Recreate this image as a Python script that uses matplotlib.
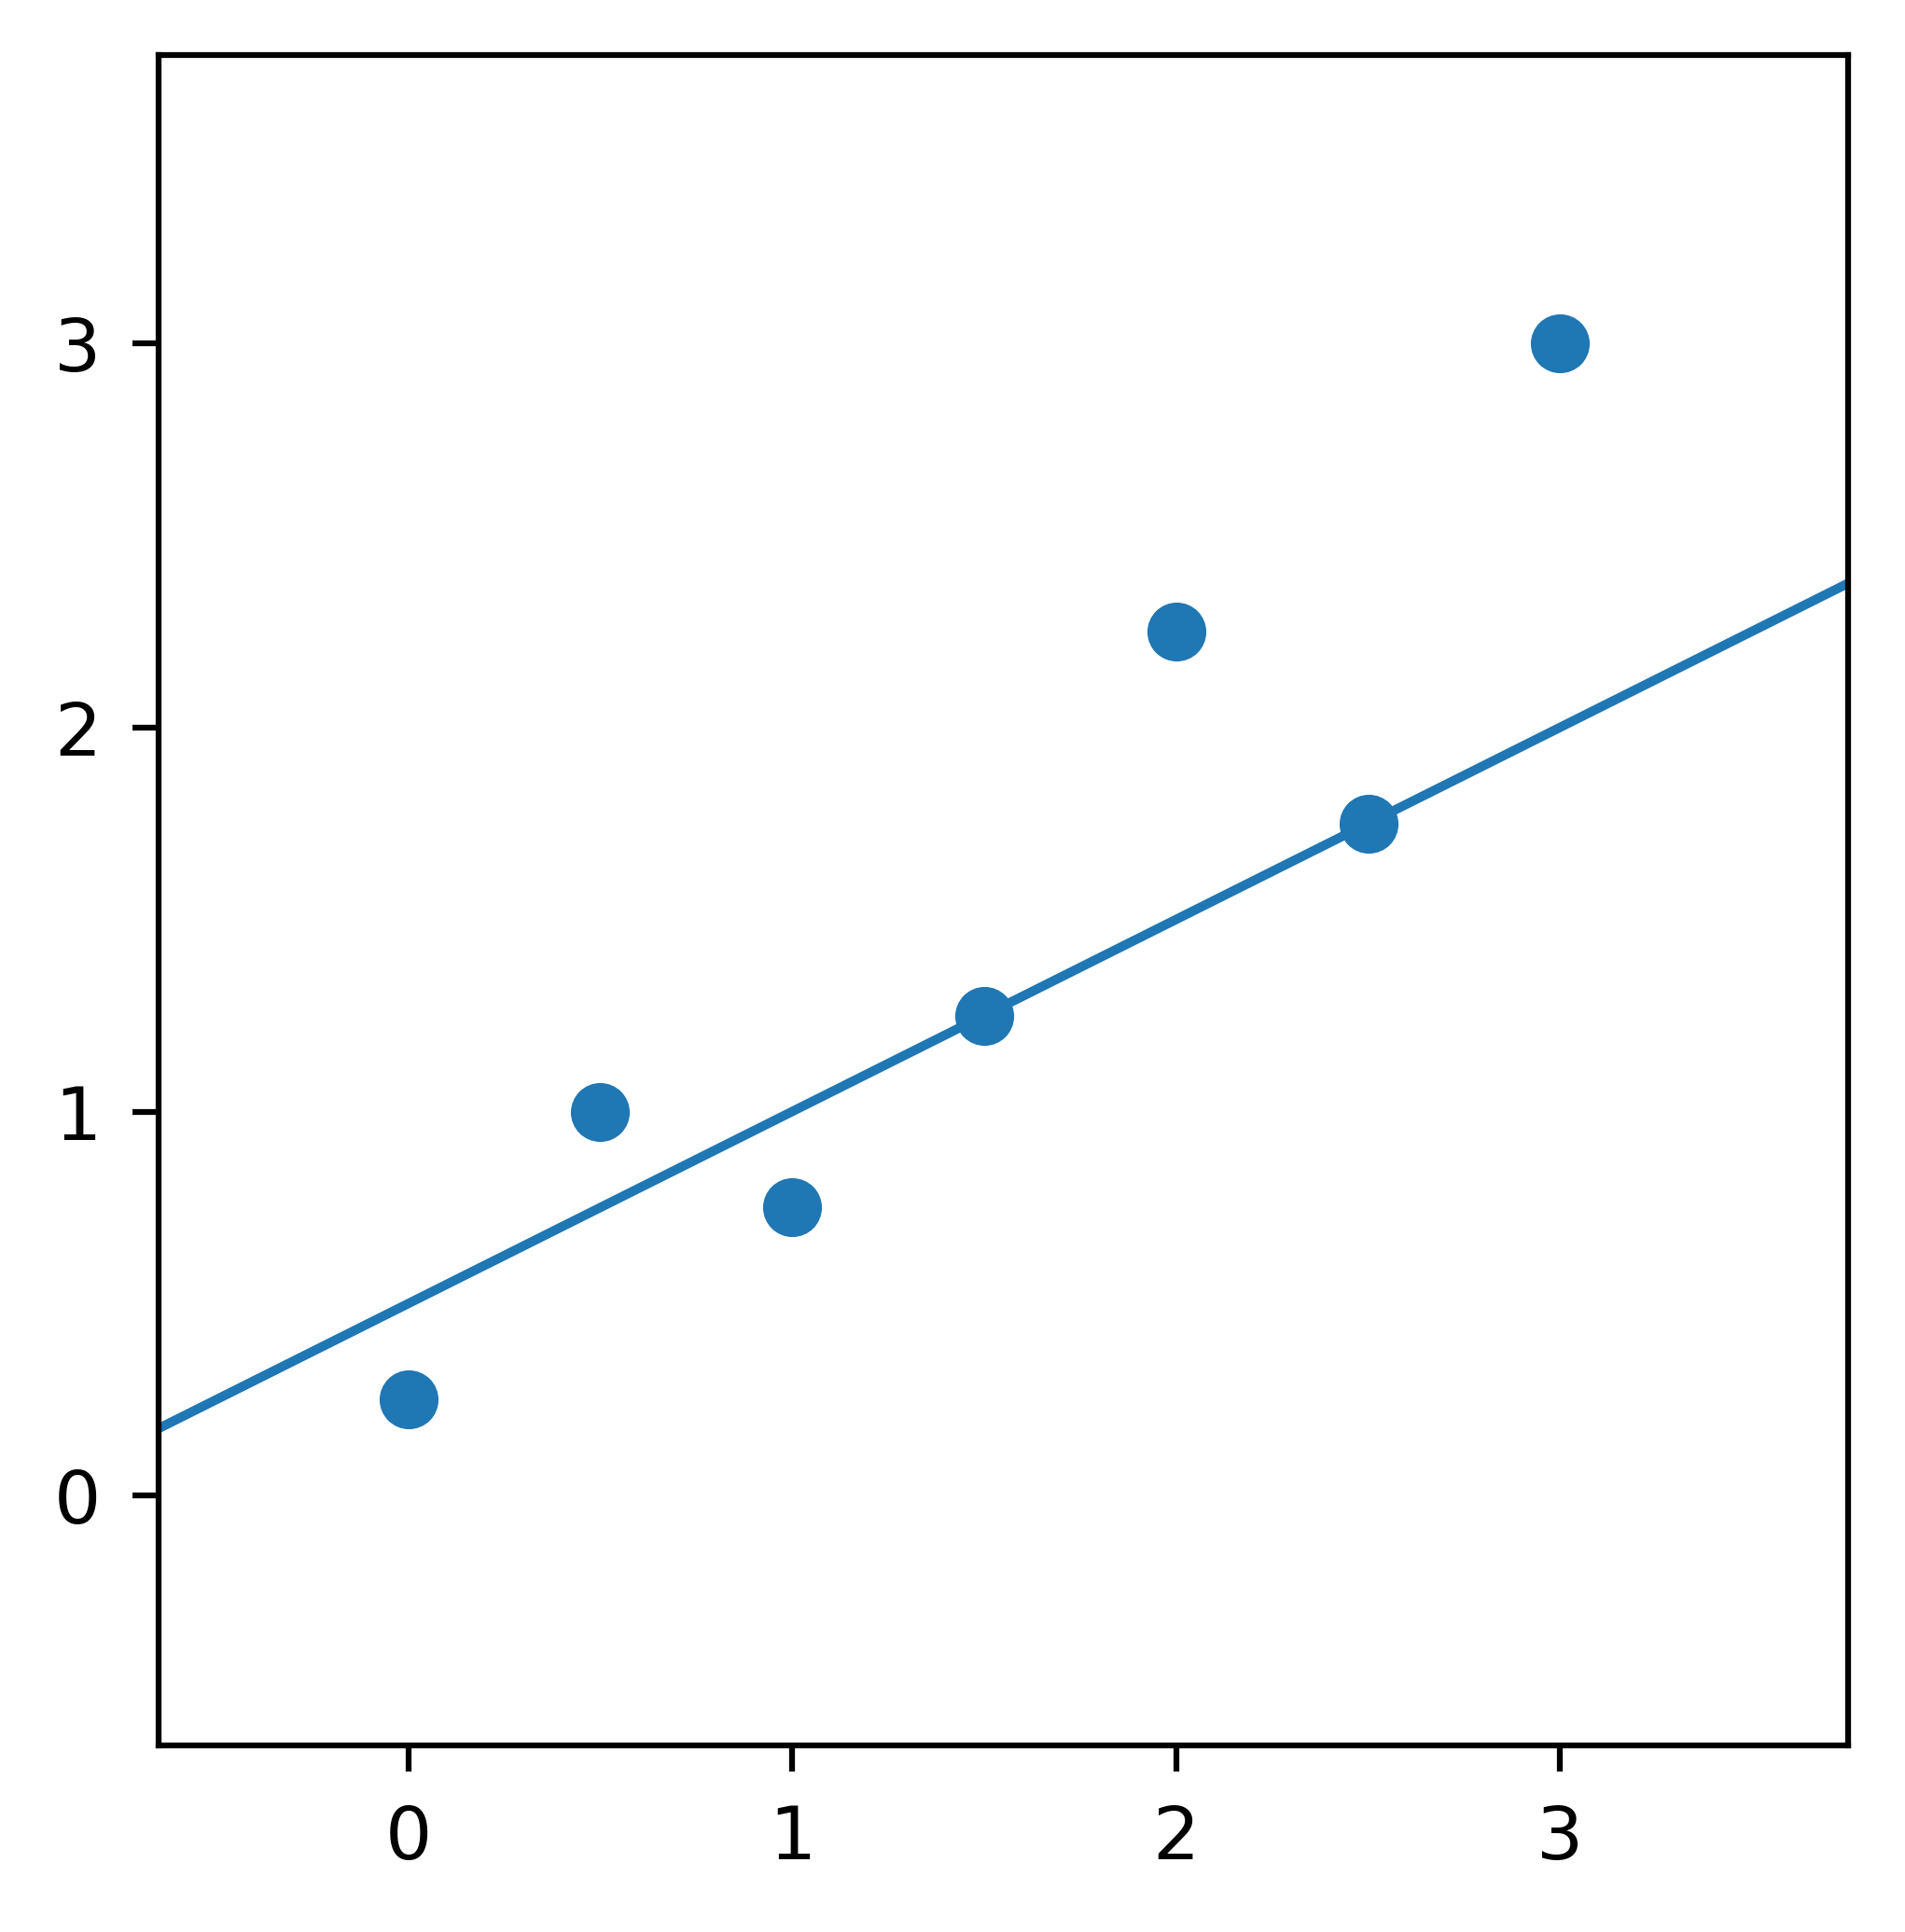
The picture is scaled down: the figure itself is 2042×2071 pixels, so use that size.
import numpy as np
import matplotlib
matplotlib.use("Agg")
from matplotlib import pyplot as plt

# data
x = [0.0, 0.5, 1.0, 1.5, 2.0, 2.5, 3.0]
y = [0.25, 1.0, 0.75, 1.25, 2.25, 1.75, 3.0]
line_point = (0.0, 0.5)
line_slope = 0.5
ticks = [0, 1, 2, 3]

fig = plt.figure(figsize=(2043 / 300, 2071 / 300), dpi=300)
ax = fig.add_axes([170 / 2043, 1 - 1871 / 2071, (1981 - 170) / 2043, (1871 - 59) / 2071])

ax.scatter(x, y, s=200, color='#1f77b4', zorder=3)
ax.axline(line_point, slope=line_slope, color='#1f77b4', lw=2.4)

ax.set_xlim(-0.65, 3.75)
ax.set_ylim(-0.65, 3.75)
ax.set_xticks(ticks)
ax.set_yticks(ticks)
ax.tick_params(labelsize=19, length=6.8, width=1.5, pad=8)
for spine in ax.spines.values():
    spine.set_linewidth(1.5)

fig.savefig('out.png', dpi=300)
